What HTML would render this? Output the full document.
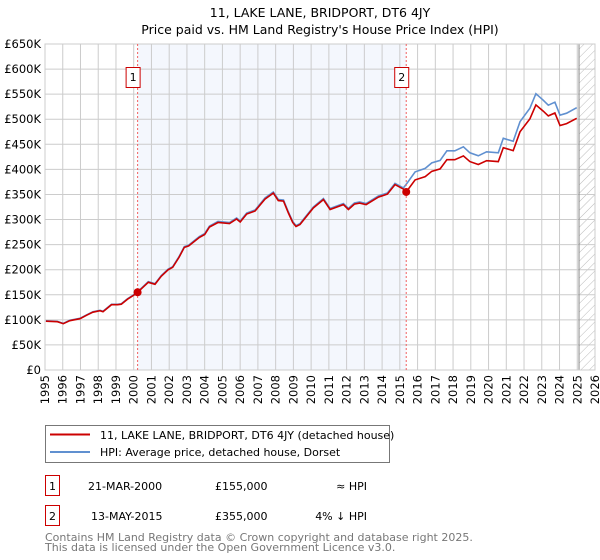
<!DOCTYPE html>
<html><head><meta charset="utf-8"><style>
body{margin:0;background:#fff;}
svg{display:block;font-family:"DejaVu Sans","Liberation Sans",sans-serif;}
</style></head><body>
<svg id="chart" width="600" height="560" viewBox="0 0 600 560">
<text x="320" y="17" text-anchor="middle" font-size="12.5">11, LAKE LANE, BRIDPORT, DT6 4JY</text>
<text x="320" y="34" text-anchor="middle" font-size="12.5">Price paid vs. HM Land Registry's House Price Index (HPI)</text>
<defs><pattern id="hatch" width="6" height="6" patternUnits="userSpaceOnUse" patternTransform="rotate(45)"><line x1="0" y1="0" x2="0" y2="6" stroke="#bbb" stroke-width="1"/></pattern>
<clipPath id="plotclip"><rect x="45" y="44" width="550" height="326"/></clipPath></defs>
<g id="shade"></g><g id="grid"></g><g id="axes"></g><g id="lines" clip-path="url(#plotclip)"></g><g id="marks"></g>
<g>
<rect x="45.5" y="425.5" width="344" height="37" fill="#fff" stroke="#777"/>
<line x1="50" y1="434.5" x2="90" y2="434.5" stroke="#cc0000" stroke-width="2"/>
<text x="100" y="439" font-size="11">11, LAKE LANE, BRIDPORT, DT6 4JY (detached house)</text>
<line x1="50" y1="452" x2="90" y2="452" stroke="#6090d0" stroke-width="2"/>
<text x="100" y="456" font-size="11">HPI: Average price, detached house, Dorset</text>
</g>
<g font-size="11">
<rect x="45.5" y="475.5" width="14" height="20" fill="#fff" stroke="#cc0000"/>
<text x="52.5" y="490" text-anchor="middle">1</text>
<text x="88" y="490">21-MAR-2000</text>
<text x="215" y="490">£155,000</text>
<text x="367" y="490" text-anchor="end">≈ HPI</text>
<rect x="45.5" y="505.5" width="14" height="20" fill="#fff" stroke="#cc0000"/>
<text x="52.5" y="520" text-anchor="middle">2</text>
<text x="91" y="520">13-MAY-2015</text>
<text x="215" y="520">£355,000</text>
<text x="367" y="520" text-anchor="end">4% ↓ HPI</text>
</g>
<text x="45" y="541" font-size="11" fill="#777">Contains HM Land Registry data © Crown copyright and database right 2025.</text>
<text x="45" y="551" font-size="11" fill="#777">This data is licensed under the Open Government Licence v3.0.</text>
</svg>
<script>
const hpiYears=[1995.05,1995.7,1996.03,1996.4,1996.97,1997.35,1997.7,1998.1,1998.27,1998.75,1999.1,1999.3,1999.65,2000.13,2000.82,2001.2,2001.55,2001.94,2002.2,2002.55,2002.85,2003.1,2003.7,2004,2004.27,2004.75,2005.4,2005.8,2006,2006.37,2006.84,2007.03,2007.4,2007.87,2008.15,2008.44,2008.72,2008.96,2009.15,2009.37,2010.12,2010.69,2011.07,2011.82,2012.1,2012.44,2012.73,2013.1,2013.79,2014.3,2014.73,2015.2,2015.36,2015.86,2016.43,2016.8,2017.27,2017.65,2018.1,2018.58,2018.95,2019.42,2019.89,2020.55,2020.83,2021.39,2021.77,2022.33,2022.67,2023.08,2023.37,2023.74,2024.03,2024.4,2024.97];
const hpiValues=[98,97,93,99,103,110,116,119,117,131,131,132,142,153,176,172,188,201,206,226,246,249,266,272,287,296,294,303,297,313,319,327,343,355,340,339,315,296,288,292,325,342,322,332,322,333,335,332,347,353,372,363,370,395,402,413,418,437,437,445,433,427,435,433,462,456,495,522,551,538,528,534,508,512,523];
const saleYears=[2000.22,2015.36];
const salePrices=[155,355];
const saleLabels=["1","2"];
const yTicks=[0,50,100,150,200,250,300,350,400,450,500,550,600,650];
const yTickLabels=["£0","£50K","£100K","£150K","£200K","£250K","£300K","£350K","£400K","£450K","£500K","£550K","£600K","£650K"];
const xTicks=[1995,1996,1997,1998,1999,2000,2001,2002,2003,2004,2005,2006,2007,2008,2009,2010,2011,2012,2013,2014,2015,2016,2017,2018,2019,2020,2021,2022,2023,2024,2025,2026];
const dataEnd=2025.1;

const L=45,R=595,T=44,B=370;
const x=y=>L+(y-1995)/(2026-1995)*(R-L);
const yv=v=>B-v/650*(B-T);
const NS="http://www.w3.org/2000/svg";
function mk(parent,tag,attrs){const e=document.createElementNS(NS,tag);for(const k in attrs)e.setAttribute(k,attrs[k]);document.getElementById(parent).appendChild(e);return e;}
function hpiAt(t){for(let i=1;i<hpiYears.length;i++){if(t<=hpiYears[i]){const f=(t-hpiYears[i-1])/(hpiYears[i]-hpiYears[i-1]);return hpiValues[i-1]+f*(hpiValues[i]-hpiValues[i-1]);}}return hpiValues[hpiValues.length-1];}

let e=mk('shade','rect',{x:x(saleYears[0]),y:T,width:x(saleYears[1])-x(saleYears[0]),height:B-T,fill:'#f4f7fd'});


e=mk('shade','rect',{x:x(dataEnd),y:T,width:R-x(dataEnd),height:B-T,fill:'url(#hatch)'});



yTicks.forEach((v,i)=>{
 let g=mk('grid','line',{x1:L,x2:R,y1:yv(v),y2:yv(v),stroke:'#ccc','stroke-width':1});
 
 
 let t=mk('axes','text',{x:L-4,y:yv(v)+4,'text-anchor':'end','font-size':'11.5'});
 t.textContent=yTickLabels[i];
 
 
});
xTicks.forEach(yr=>{
 let g=mk('grid','line',{x1:x(yr),x2:x(yr),y1:T,y2:B,stroke:'#ccc','stroke-width':1});
 
 
 let t=mk('axes','text',{x:0,y:0,'text-anchor':'end','font-size':'11.5',transform:`translate(${x(yr)+4},375) rotate(-90)`});
 t.textContent=yr;
 
 
});
e=mk('grid','line',{x1:x(dataEnd),x2:x(dataEnd),y1:T,y2:B,stroke:'#888','stroke-width':1});



const hp=hpiYears.map((t,i)=>`${x(t).toFixed(1)},${yv(hpiValues[i]).toFixed(1)}`).join(' ');
e=mk('lines','polyline',{points:hp,fill:'none',stroke:'#6090d0','stroke-width':1.6});


const redPts=hpiYears.map((t,i)=>{let k=0;for(let j=0;j<saleYears.length;j++)if(t>=saleYears[j])k=j;const f=salePrices[k]/hpiAt(saleYears[k]);const fr=(t<saleYears[0])?salePrices[0]/hpiAt(saleYears[0]):f;return `${x(t).toFixed(1)},${yv(hpiValues[i]*fr).toFixed(1)}`;});
e=mk('lines','polyline',{points:redPts.join(' '),fill:'none',stroke:'#cc0000','stroke-width':1.6});



saleYears.forEach((s,i)=>{
 let l=mk('marks','line',{x1:x(s),x2:x(s),y1:T,y2:B,stroke:'#f06060','stroke-width':1,'stroke-dasharray':'2,2'});
 
 
 let c=mk('marks','circle',{cx:x(s),cy:yv(salePrices[i]),r:4,fill:'#cc0000'});
 
 
 let b=mk('marks','rect',{x:x(s)-11.5,y:67.5,width:14,height:20,fill:'#fff',stroke:'#cc0000'});
 
 
 let t=mk('marks','text',{x:x(s)-4.5,y:81,'text-anchor':'middle','font-size':'11'});
 t.textContent=saleLabels[i];
 
 
});
e=mk('axes','rect',{x:L,y:T,width:R-L,height:B-T,fill:'none',stroke:'#ccc'});


</script>
</body></html>
